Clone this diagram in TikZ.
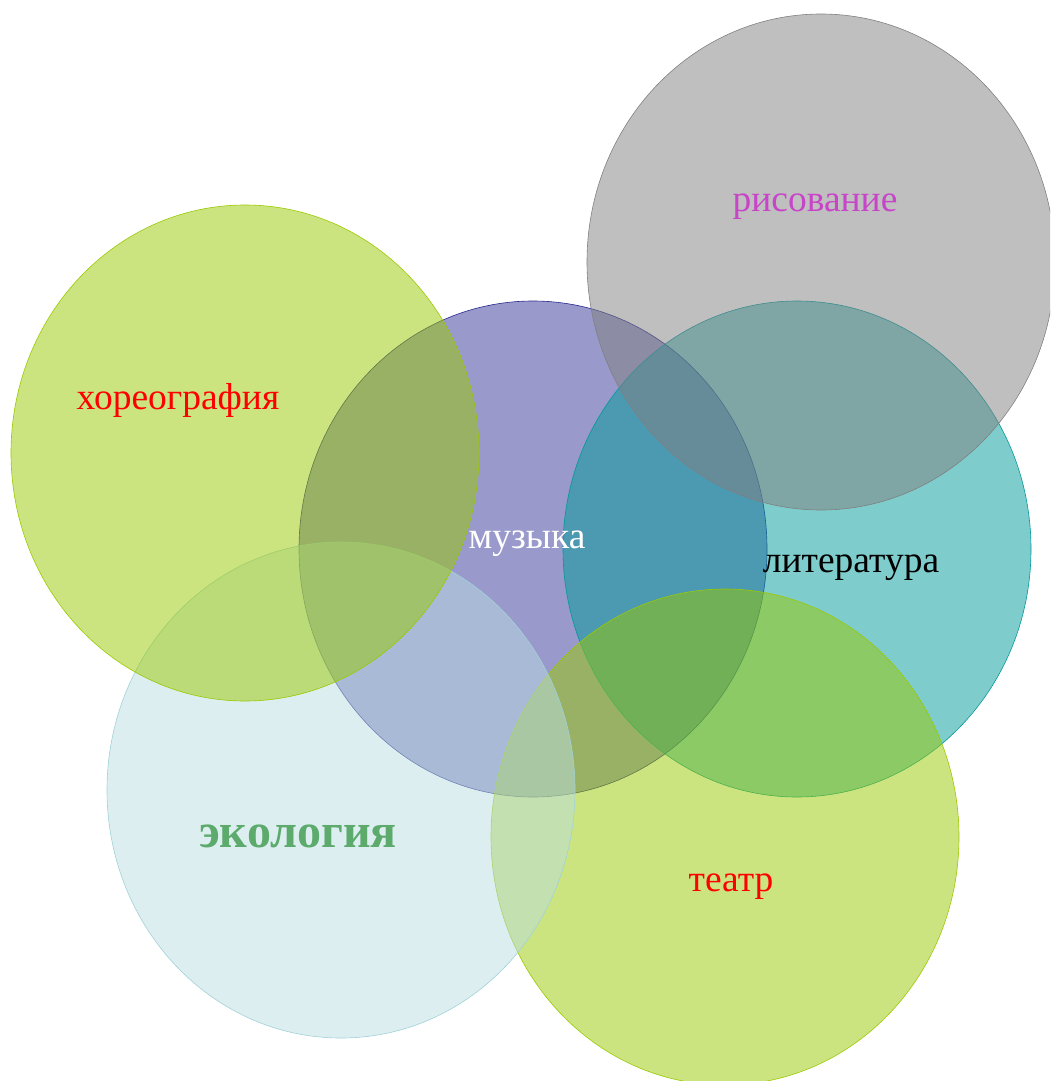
\documentclass[tikz,border=0pt]{standalone}
\usepackage{fontspec}
\setmainfont{Liberation Serif}
\usetikzlibrary{shapes.geometric}
\definecolor{cyel}{RGB}{153,201,0}
\definecolor{cmus}{RGB}{51,51,153}
\definecolor{cmusline}{RGB}{40,40,140}
\definecolor{cgray}{RGB}{128,128,128}
\definecolor{cteal}{RGB}{0,153,153}
\definecolor{ceco}{RGB}{187,221,225}
\definecolor{cecoline}{RGB}{160,210,216}
\definecolor{cmag}{RGB}{200,68,200}
\definecolor{cgreen}{RGB}{92,170,108}
\tikzset{
  blob/.style={ellipse, inner sep=0pt, outer sep=0pt, minimum width=468pt, minimum height=496pt, line width=0.6pt, fill opacity=0.5, draw opacity=1},
  lbl/.style={inner sep=0pt, font=\fontsize{37.5}{40}\selectfont}
}
\begin{document}
\begin{tikzpicture}[x=1pt,y=-1pt]
\useasboundingbox (0,0) rectangle (1050,1081);
\clip (0,0) rectangle (1050,1081);
\node[blob, fill=cmus, draw=cmusline] (mus) at (533,549) {};
\node[blob, fill=cteal, draw=cteal] (lit) at (797,549) {};
\node[blob, fill=cgray, draw=cgray] (ris) at (821,262) {};
\node[blob, fill=cyel, draw=cyel] (tea) at (725,837) {};
\node[blob, fill=ceco, draw=cecoline] (eco) at (341,790) {};
\node[blob, fill=cyel, draw=cyel] (hor) at (245,453) {};
\node[lbl, text=red] (thor) at (178,400) {хореография};
\node[lbl, text=cmag] (tris) at (815,207) {рисование};
\node[lbl, text=white] (tmus) at (527,544) {музыка};
\node[lbl, text=black] (tlit) at (851,568) {литература};
\node[lbl, text=cgreen, font=\fontsize{48}{52}\selectfont\bfseries] (teco) at (298,836) {экология};
\node[lbl, text=red] (ttea) at (731,887) {театр};
\end{tikzpicture}
\end{document}
